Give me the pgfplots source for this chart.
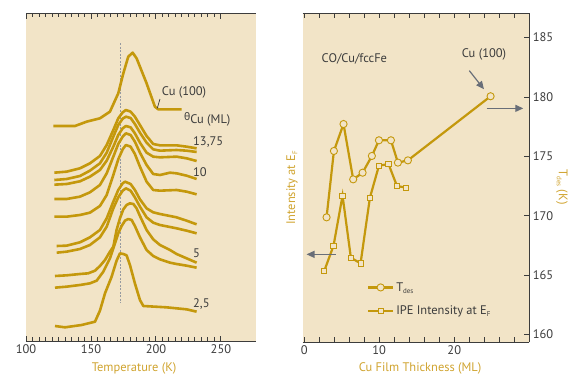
\documentclass[border=0pt]{standalone}
\usepackage{fontspec}
\setmainfont{PT Sans}
\newfontfamily\grk{Noto Sans}
\usepackage{pgfplots}
\pgfplotsset{compat=1.18}
\usetikzlibrary{arrows.meta}
\definecolor{bg}{RGB}{242,228,199}
\definecolor{gold}{RGB}{196,152,12}
\definecolor{labgold}{RGB}{208,164,48}
\definecolor{txt}{RGB}{60,60,60}
\definecolor{arr}{RGB}{105,110,120}
\tikzset{cv/.style={gold, line width=2.6bp, line join=round, no marks}}
\begin{document}
\begin{tikzpicture}[font=\fontsize{12.5}{14}\selectfont]
\useasboundingbox (-26bp,-34bp) rectangle (542bp,341bp);
\begin{axis}[
 at={(0,0)}, anchor=south west, scale only axis, width=230bp, height=327bp,
 xmin=100, xmax=277, ymin=-1023, ymax=-42,
 axis background/.style={fill=bg},
 axis x line=box, axis y line=none,
 axis line style={draw=txt, line width=1bp},
 xtick={100,150,200,250}, minor x tick num=9,
 tick align=inside, xticklabel pos=lower,
 major tick length=5bp, minor tick length=3.5bp,
 tick style={draw=txt, line width=0.9bp},
 ticklabel style={text=txt},
 /pgf/number format/assume math mode=true,
 xlabel={Temperature (K)}, ylabel={Mass 28 Signal},
 every axis x label/.style={at={(axis description cs:0.47,-0.083)}, anchor=center, text=labgold},
 every axis y label/.style={at={(axis description cs:-0.048,0.477)}, rotate=90, anchor=center, text=labgold},
 clip=false,
]
\addplot[arr!70, line width=0.8bp, dash pattern=on 2bp off 1.5bp] coordinates {(172.3,-130)(172.3,-910)};
% Cu(100)
\addplot[cv] coordinates {(121.0,-378)(137.7,-378)(146.7,-365)(156.9,-355)(164.6,-335)(171.0,-280)(174.9,-220)(178.7,-170)(182.1,-158)(185.1,-175)(192.8,-250)(199.2,-320)(201.8,-328)(219.7,-328)};
\addplot[cv] coordinates {(121.8,-518)(131.3,-515)(141.5,-505)(149.2,-490)(156.9,-468)(162.1,-435)(167.2,-390)(171.0,-355)(174.4,-337)(176.9,-330)(180.5,-335)(183.8,-350)(187.7,-375)(192.8,-408)(197.9,-432)(203.1,-436)(215.9,-436)(223.6,-440)(231.3,-445)};
\addplot[cv] coordinates {(121.8,-540)(131.3,-537)(141.5,-528)(149.2,-512)(156.9,-490)(162.1,-458)(167.2,-410)(171.0,-375)(174.4,-356)(176.9,-350)(180.5,-354)(183.8,-372)(187.7,-398)(192.8,-428)(197.9,-448)(203.1,-452)(215.9,-450)(223.6,-452)(231.3,-456)};
\addplot[cv] coordinates {(121.8,-554)(131.3,-552)(141.5,-544)(149.2,-530)(156.9,-510)(162.1,-482)(167.2,-440)(171.0,-405)(174.4,-385)(176.9,-378)(180.5,-382)(183.8,-400)(187.7,-428)(192.8,-458)(197.9,-470)(203.1,-472)(215.9,-470)(223.6,-475)(231.3,-483)};
\addplot[cv] coordinates {(121.8,-597)(131.3,-597)(141.5,-590)(149.2,-577)(156.9,-555)(162.1,-520)(167.2,-470)(171.0,-432)(174.4,-410)(176.9,-400)(180.5,-405)(183.8,-425)(187.7,-458)(192.8,-495)(197.9,-522)(203.1,-525)(210.8,-518)(215.9,-520)(223.6,-527)(231.3,-537)};
\addplot[cv] coordinates {(121.8,-650)(131.3,-650)(141.5,-645)(149.2,-638)(156.9,-618)(162.1,-585)(167.2,-525)(171.0,-478)(174.4,-448)(176.9,-435)(180.5,-440)(183.8,-462)(187.7,-500)(192.8,-545)(197.9,-570)(203.1,-572)(215.9,-570)(223.6,-575)(231.3,-583)};
\addplot[cv] coordinates {(123.6,-738)(131.3,-737)(141.5,-727)(149.2,-712)(156.9,-690)(162.1,-655)(167.2,-605)(171.0,-570)(174.4,-550)(176.2,-545)(180.5,-552)(183.8,-570)(187.7,-598)(192.8,-625)(197.9,-637)(203.1,-642)(215.9,-652)(223.6,-662)(231.3,-673)};
\addplot[cv] coordinates {(123.6,-758)(131.3,-755)(141.5,-747)(149.2,-735)(156.9,-712)(162.1,-680)(167.2,-625)(171.0,-592)(174.4,-572)(176.9,-565)(180.5,-572)(183.8,-592)(187.7,-620)(192.8,-652)(197.9,-668)(203.1,-675)(215.9,-685)(223.6,-692)(231.3,-700)};
\addplot[cv] coordinates {(122.3,-828)(131.3,-826)(141.5,-822)(147.9,-820)(153.1,-812)(156.9,-798)(160.8,-780)(164.6,-755)(167.2,-740)(169.7,-690)(172.3,-655)(174.9,-628)(177.4,-615)(180.0,-610)(182.6,-612)(185.1,-625)(187.7,-648)(192.8,-690)(197.9,-718)(203.1,-735)(210.8,-750)(215.9,-762)(223.6,-775)(231.3,-788)};
\addplot[cv] coordinates {(122.3,-863)(131.3,-860)(141.5,-855)(149.2,-850)(154.4,-842)(159.5,-815)(164.6,-775)(168.5,-730)(171.0,-700)(173.6,-678)(176.2,-662)(178.7,-657)(181.3,-660)(183.8,-678)(187.7,-712)(192.8,-750)(197.9,-768)(203.1,-778)(210.8,-788)(215.9,-792)(223.6,-797)(231.3,-803)};
\addplot[cv] coordinates {(122.3,-978)(130.0,-982)(142.8,-975)(153.1,-965)(156.9,-932)(160.8,-880)(165.9,-830)(169.7,-782)(172.3,-760)(174.9,-762)(177.4,-766)(180.0,-795)(183.8,-850)(187.7,-900)(190.3,-918)(208.2,-922)(223.6,-928)(231.3,-935)};
\draw[txt, line width=0.7bp] (axis cs:203.1,-297) -- (axis cs:201.0,-325);
\node[anchor=west, text=txt, inner sep=0pt] at (axis cs:204.4,-277) {Cu (100)};
\node[anchor=west, text=txt, inner sep=0pt] at (axis cs:221.5,-358) {{\grk\fontsize{10.5}{10}\selectfont θ}\raisebox{-0.5ex}{Cu (ML)}};
\node[anchor=west, text=txt, inner sep=0pt] at (axis cs:228.5,-425) {13,75};
\node[anchor=west, text=txt, inner sep=0pt] at (axis cs:228.5,-515) {10};
\node[anchor=west, text=txt, inner sep=0pt] at (axis cs:228.5,-760) {5};
\node[anchor=west, text=txt, inner sep=0pt] at (axis cs:228.5,-912) {2,5};
\end{axis}
\begin{axis}[
 at={(276.7bp,-1.3bp)}, anchor=south west, scale only axis, width=226.6bp, height=329bp,
 xmin=-0.2, xmax=30, ymin=159.33, ymax=187.05,
 axis background/.style={fill=bg},
 axis x line=box, axis y line*=right,
 axis line style={draw=txt, line width=1bp},
 xtick={0,10,20}, minor xtick={2,4,6,8,12,14,16,18,22,24,26,28},
 ytick={160,165,170,175,180,185},
 tick align=inside, xticklabel pos=lower,
 major tick length=5bp, minor tick length=5bp,
 tick style={draw=txt, line width=0.9bp},
 ticklabel style={text=txt},
 /pgf/number format/assume math mode=true,
 xlabel={Cu Film Thickness (ML)}, ylabel={T{\fontsize{7}{7}\selectfont\raisebox{-0.6ex}{des}} (K)},
 every axis x label/.style={at={(axis description cs:0.518,-0.078)}, anchor=center, text=labgold},
 every axis y label/.style={at={(axis description cs:1.144,0.472)}, rotate=-90, anchor=center, text=labgold},
 clip=false,
 legend style={at={(axis description cs:0.27,0.195)}, anchor=north west, draw=none, fill=none, text=txt, row sep=9bp, nodes={inner sep=2bp}},
 legend cell align=left,
 legend image code/.code={\draw[mark repeat=2,mark phase=2] plot coordinates {(0bp,0bp) (12.5bp,0bp) (25bp,0bp)};},
]
\addplot[gold, line width=2.2bp, mark=*, mark size=3.6bp, mark options={fill=bg, draw=gold, line width=0.9bp}] coordinates {
(2.98,169.86)(3.96,175.45)(5.24,177.72)(6.53,173.06)(7.78,173.62)(9.02,175.03)(9.96,176.35)(11.56,176.35)(12.49,174.47)(13.82,174.66)(24.84,180.06)};
\addlegendentry{T{\fontsize{7}{7}\selectfont\raisebox{-0.6ex}{des}}}
\addplot[gold, line width=2.2bp, mark=square*, mark size=2.6bp, mark options={fill=bg, draw=gold, line width=0.9bp}] coordinates {
(2.67,165.34)(3.91,167.47)(5.11,171.69)(6.22,166.46)(7.51,165.98)(8.76,171.52)(9.96,174.21)(11.24,174.35)(12.36,172.50)(13.56,172.36)};
\addlegendentry{IPE Intensity at E{\fontsize{7}{7}\selectfont\raisebox{-0.6ex}{F}}}
\node[rotate=90, text=labgold] at (axis description cs:-0.047,0.469) {Intensity at E{\fontsize{7}{7}\selectfont\raisebox{-0.6ex}{F}}};
\node[anchor=west, text=txt, inner sep=0pt] at (axis cs:2.31,183.17) {CO/Cu/fccFe};
\node[text=txt, inner sep=0pt] at (axis cs:23.96,183.6) {Cu (100)};
\draw[arr, line width=1.2bp, -{Triangle[length=8bp,width=7bp]}] (axis cs:22.0,182.22) -- (axis cs:23.96,180.65);
\draw[arr, line width=1.2bp, -{Triangle[length=8bp,width=7bp]}] (axis cs:24.31,179.04) -- (axis cs:29.2,179.04);
\draw[arr, line width=1.2bp, -{Triangle[length=8bp,width=7bp]}] (axis cs:4.22,166.74) -- (axis cs:0.31,166.74);
\end{axis}
\end{tikzpicture}
\end{document}
